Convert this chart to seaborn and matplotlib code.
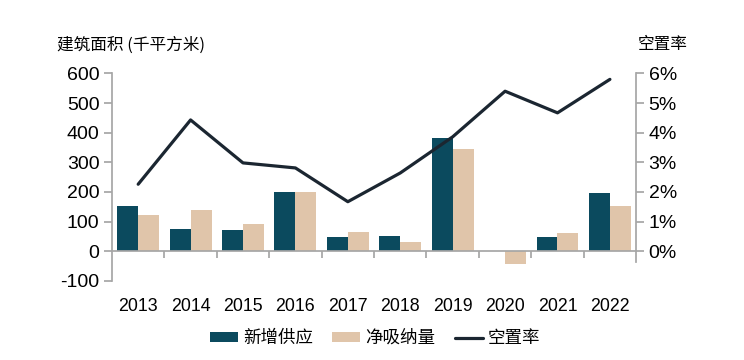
import numpy as np
import pandas as pd
import matplotlib
matplotlib.use("Agg")
import matplotlib.pyplot as plt
from matplotlib.lines import Line2D
from matplotlib.patches import Patch
import seaborn as sns

# 数据
years = ["2013", "2014", "2015", "2016", "2017", "2018", "2019", "2020", "2021", "2022"]
new_supply = [153, 74, 70, 200, 48, 52, 382, 0, 47, 195]
net_absorption = [122, 139, 92, 200, 66, 30, 344, -42, 62, 152]
vacancy = [2.26, 4.43, 2.98, 2.81, 1.67, 2.64, 3.86, 5.40, 4.67, 5.80]

DARK = "#0B4A5E"
TAN = "#E0C5AA"
LINE = "#1B2631"
GREY = "#A6A6A6"

sns.set_theme(style="white", rc={"text.color": "black",
                                 "xtick.color": "black",
                                 "ytick.color": "black"})
plt.rcParams["font.family"] = ["Liberation Sans", "Noto Sans CJK SC", "DejaVu Sans"]
plt.rcParams["axes.unicode_minus"] = False
CJK = ["Noto Sans CJK SC", "DejaVu Sans"]

df = pd.DataFrame({
    "year": years * 2,
    "value": new_supply + net_absorption,
    "series": ["新增供应"] * len(years) + ["净吸纳量"] * len(years),
})

fig = plt.figure(figsize=(7.44, 3.6), dpi=100)
ax = fig.add_axes([0.1505, 0.220, 0.7045, 0.576])

sns.barplot(data=df, x="year", y="value", hue="series",
            palette=[DARK, TAN], saturation=1, width=0.8, linewidth=0,
            legend=False, ax=ax)
ax.set_xlim(-0.5, len(years) - 0.5)
ax.set_ylim(-100, 600)
ax.set_yticks(range(-100, 601, 100))
ax.set_xlabel("")
ax.set_ylabel("")

# 轴线
for s in ["top", "right"]:
    ax.spines[s].set_visible(False)
ax.spines["left"].set_color(GREY)
ax.spines["bottom"].set_color(GREY)
ax.spines["bottom"].set_position(("data", 0))
ax.tick_params(axis="y", left=True, length=6, color=GREY, labelcolor="black",
               labelsize=14, pad=3)

# x 轴: 分隔刻度在 0 线上, 年份在底部
ax.set_xticks(np.arange(0.5, len(years) - 1, 1))
ax.set_xticklabels([])
ax.tick_params(axis="x", which="major", bottom=True, length=5, color=GREY, direction="out")
ax.set_xticks(np.arange(len(years)), minor=True)
ax.set_xticklabels(years, minor=True)
ax.tick_params(axis="x", which="minor", bottom=True, length=0, labelcolor="black",
               labelsize=12.8, pad=34)

# 右轴: 空置率
ax2 = ax.twinx()
sns.lineplot(x=np.arange(len(years)), y=vacancy, color=LINE, linewidth=2.3, ax=ax2)
ax2.set_ylim(-1, 6)
ax2.set_yticks(range(0, 7))
ax2.set_yticklabels([f"{v}%" for v in range(0, 7)])
for s in ["top", "left", "bottom"]:
    ax2.spines[s].set_visible(False)
ax2.spines["right"].set_color(GREY)
ax2.spines["right"].set_bounds(-0.35, 6)
ax2.tick_params(axis="y", right=True, length=6, color=GREY, labelcolor="black",
                labelsize=14, pad=3)
ax2.grid(False)
ax.grid(False)

fig.text(0.077, 0.875, "建筑面积 (千平方米)", fontsize=12, family=CJK, va="center", ha="left")
fig.text(0.857, 0.875, "空置率", fontsize=12, family=CJK, va="center", ha="left")

handles = [
    Patch(facecolor=DARK, edgecolor="none"),
    Patch(facecolor=TAN, edgecolor="none"),
    Line2D([0], [0], color=LINE, linewidth=2.3),
]
fig.legend(handles, ["新增供应", "净吸纳量", "空置率"], loc="center",
           bbox_to_anchor=(0.504, 0.061), ncol=3, frameon=False,
           prop={"family": CJK, "size": 12.6}, handlelength=1.6, handleheight=0.45,
           handletextpad=0.3, columnspacing=1.1)

fig.savefig("out.png", dpi=100)
